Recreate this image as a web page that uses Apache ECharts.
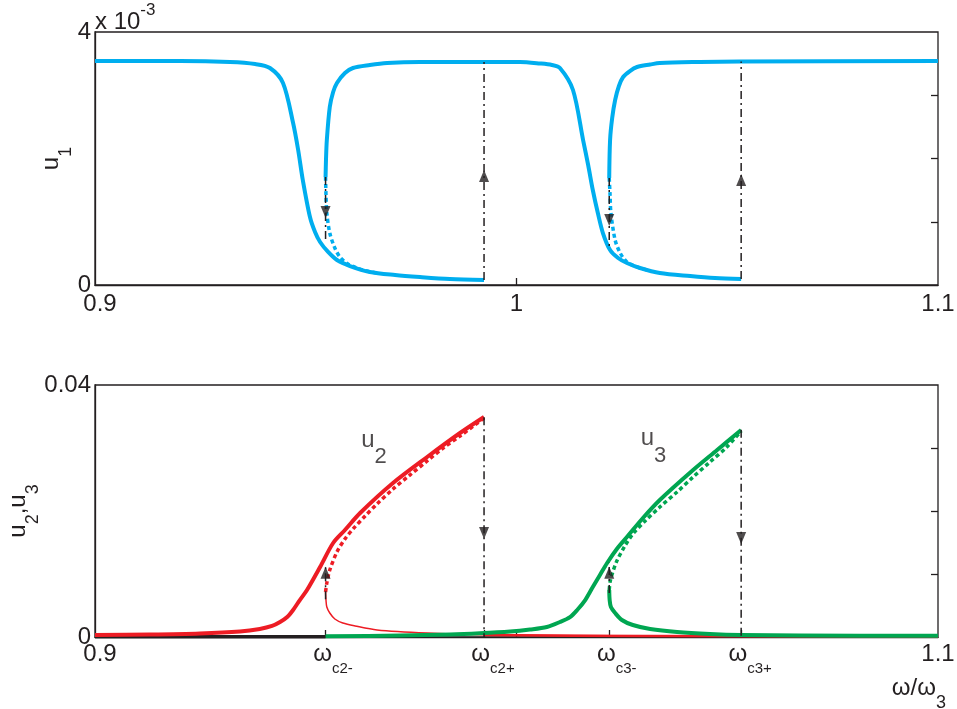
<!DOCTYPE html>
<html><head><meta charset="utf-8">
<script src="https://cdn.jsdelivr.net/npm/echarts@6/dist/echarts.min.js"></script>
<style>html,body{margin:0;padding:0;background:#fff}#c{width:957px;height:709px}</style>
</head><body><div id="c"></div>
<script>
// ---------- data ----------
// critical frequencies  w_c2-, w_c2+, w_c3-, w_c3+
const wc = [0.9547, 0.9923, 1.0220, 1.0533];

// top panel: u1 (units of 1e-3)
const u1LowX = [0.9,0.9202,0.9320,0.9380,0.9415,0.9446,0.9470,0.9482,0.9493,0.9510,0.9522,0.9534,0.9553,0.9574,0.9605,0.9652,0.9712,0.9771,0.9842,0.9923];
const u1LowY = [3.541,3.541,3.526,3.494,3.431,3.194,2.561,2.134,1.660,1.075,0.838,0.680,0.522,0.395,0.300,0.206,0.158,0.126,0.095,0.079];
const u1MidX = [0.9547,0.9548,0.9550,0.9557,0.9565,0.9574,0.9593,0.9612,0.9652,0.9693,0.9771,0.9921,1.0008,1.0056,1.0084,1.0103,1.0134,1.0158,1.0170,1.0181,1.0193,1.0205,1.0222,1.0241,1.0262,1.0293,1.0340,1.0412,1.0471,1.0533];
const u1MidY = [1.707,1.976,2.292,2.814,3.051,3.194,3.352,3.431,3.478,3.510,3.526,3.526,3.526,3.502,3.478,3.431,3.083,2.292,1.897,1.502,1.138,0.822,0.553,0.427,0.348,0.269,0.190,0.142,0.111,0.095];
const u1HighX = [1.0220,1.0222,1.0227,1.0234,1.0243,1.0253,1.0269,1.0286,1.0317,1.0340,1.0435,1.0530,1.1];
const u1HighY = [1.692,2.292,2.640,2.925,3.146,3.288,3.383,3.447,3.486,3.510,3.526,3.534,3.541];
const u1Unst1X = [0.9547,0.9548,0.9550,0.9557,0.9569,0.9581,0.9600,0.9622,0.9645,0.9669];
const u1Unst1Y = [1.707,1.423,1.138,0.822,0.585,0.443,0.332,0.269,0.221,0.190];
const u1Unst2X = [1.0220,1.0222,1.0224,1.0234,1.0246,1.0262,1.0286,1.0310];
const u1Unst2Y = [1.692,1.423,1.138,0.711,0.506,0.364,0.285,0.237];
const jumpTopFrom = [1.707, 0.079, 1.692, 0.095];
const jumpTopTo   = [0.664, 3.526, 0.553, 3.534];
const arrowTopY   = [1.154, 1.723, 1.028, 1.660];
const arrowTopDir = ['down','up','down','up'];

// bottom panel: u2 (red), u3 (green)
const u2UpX = [0.9,0.9130,0.9249,0.9344,0.9391,0.9420,0.9439,0.9456,0.9470,0.9486,0.9503,0.9534,0.9565,0.9593,0.9629,0.9707,0.9788,0.9866,0.9923];
const u2UpY = [0.00032,0.00040,0.00056,0.00087,0.00127,0.00175,0.00238,0.00317,0.00429,0.00587,0.00746,0.01111,0.01492,0.01698,0.01968,0.02444,0.02857,0.03238,0.03492];
const u2UnstX = [0.9547,0.9550,0.9557,0.9574,0.9593,0.9612,0.9641,0.9669,0.9707,0.9747,0.9788,0.9826,0.9866,0.9923];
const u2UnstY = [0.00714,0.00857,0.01063,0.01349,0.01556,0.01714,0.01921,0.02111,0.02349,0.02571,0.02794,0.03000,0.03190,0.03476];
const u2LowX = [0.9547,0.9548,0.9550,0.9557,0.9569,0.9588,0.9617,0.9669,0.9788,0.9944,1.05,1.1];
const u2LowY = [0.00714,0.00587,0.00476,0.00381,0.00286,0.00222,0.00175,0.00111,0.00063,0.00032,0.00012,0.00008];
const u2TailX = [0.9923,1.03,1.1];
const u2TailY = [0.00030,0.00015,0.00008];
const u3BaseX = [0.9,0.9547];
const u3BaseY = [0.00005,0.00005];
const u3UpX = [0.9547,0.9724,0.9842,0.9913,0.9985,1.0032,1.0072,1.0103,1.0127,1.0144,1.0163,1.0181,1.0198,1.0215,1.0238,1.0262,1.0300,1.0340,1.0419,1.0476,1.0533];
const u3UpY = [0.00011,0.00024,0.00040,0.00059,0.00087,0.00119,0.00159,0.00238,0.00317,0.00429,0.00587,0.00794,0.00984,0.01175,0.01397,0.01587,0.01889,0.02175,0.02651,0.02968,0.03286];
const u3UnstX = [1.0220,1.0222,1.0227,1.0238,1.0257,1.0276,1.0305,1.0340,1.0381,1.0419,1.0459,1.0499,1.0533];
const u3UnstY = [0.00746,0.00873,0.01000,0.01206,0.01444,0.01635,0.01841,0.02063,0.02302,0.02540,0.02778,0.03016,0.03270];
const u3LowX = [1.0220,1.0221,1.0224,1.0234,1.0250,1.0276,1.0317,1.0381,1.0459,1.0533,1.0673,1.1];
const u3LowY = [0.00746,0.00587,0.00476,0.00381,0.00270,0.00190,0.00127,0.00079,0.00048,0.00032,0.00024,0.00020];
const jumpBotFrom = [0.0060, 0.0349, 0.0070, 0.0329];
const jumpBotTo   = [0.0112, 0.0,    0.0118, 0.0];
const arrowBotY   = [0.0102, 0.0165, 0.0102, 0.0157];
const arrowBotDir = ['up','down','up','down'];

// annotations
const annX = [0.9662, 1.0325];
const annY = [0.0300, 0.0302];
const annText = ['{u|u}{s|2}', '{u|u}{s|3}'];

// tick labels
const topXLabelVals = [0.9, 1, 1.1];
const topXLabels = ['{p| }{n|0.9}', '{n|1}', '{n|1.1}'];
const botXLabelVals = [0.9, wc[0], wc[1], wc[2], wc[3], 1.1];
const botXLabels = ['{p| }{n|0.9}', '{p1| }{w|ω}{s|c2-}', '{p2| }{w|ω}{s|c2+}', '{p1| }{w|ω}{s|c3-}', '{p2| }{w|ω}{s|c3+}', '{n|1.1}'];
const topYLabelVals = [0, 4];
const botYLabelVals = [0, 0.04];

// ---------- chart ----------
const FONT = '"Liberation Sans", Arial, Helvetica, sans-serif';
const INK = '#231F20';
const BLUE = '#00AEEF', RED = '#ED1C24', GREEN = '#00A651';
const AXW = 1.3;
const FS = 24;
function zip(xs, ys) { return xs.map((x, i) => [x, ys[i]]); }
function line(xi, xs, ys, color, width, type, z, smooth) {
  return { type: 'line', xAxisIndex: xi, yAxisIndex: xi === 0 ? 0 : 2, data: zip(xs, ys),
    showSymbol: false, symbol: 'none', silent: true, z: z || 2, smooth: smooth === undefined ? 0.3 : smooth,
    lineStyle: { color: color, width: width, type: type || 'solid', cap: 'butt', join: 'round' } };
}
function jumps(xi, from, to) {
  return wc.map((x, i) => line(xi, [x, x], [from[i], to[i]], INK, 1.5, [8, 4, 2, 4], 4, false));
}
function arrows(xi, ys, dirs) {
  return { type: 'scatter', xAxisIndex: xi, yAxisIndex: xi === 0 ? 0 : 2, symbol: 'triangle',
    symbolSize: [10, 12], z: 6, silent: true, itemStyle: { color: INK },
    data: wc.map((x, i) => ({ value: [x, ys[i]], symbolRotate: dirs[i] === 'down' ? 180 : 0 })) };
}
const lab = { fontFamily: FONT, color: INK, fontSize: FS };
const richTick = {
  n: { fontFamily: FONT, color: INK, fontSize: FS, lineHeight: FS, verticalAlign: 'top' },
  w: { fontFamily: FONT, color: INK, fontSize: FS, lineHeight: FS, verticalAlign: 'top' },
  s: { fontFamily: FONT, color: INK, fontSize: 15, lineHeight: 34, verticalAlign: 'bottom' },
  p: { width: 10 }, p1: { width: 15 }, p2: { width: 18 }
};
const richName = {
  u: { fontFamily: FONT, color: INK, fontSize: FS, lineHeight: FS, verticalAlign: 'top' },
  s: { fontFamily: FONT, color: INK, fontSize: 18, lineHeight: 36, verticalAlign: 'bottom' }
};
function pick(vals, labels, v) {
  let bi = 0, bd = Infinity;
  vals.forEach((x, i) => { const d = Math.abs(x - v); if (d < bd) { bd = d; bi = i; } });
  return labels[bi];
}
const axisLineStyle = { show: true, lineStyle: { color: INK, width: AXW } };

const option = {
  animation: false,
  backgroundColor: '#fff',
  grid: [
    { left: 95, right: 19, top: 32, bottom: 424, show: true, borderColor: INK, borderWidth: AXW,
      containLabel: false, outerBoundsMode: 'none' },
    { left: 95, right: 19, top: 385, bottom: 72, show: true, borderColor: INK, borderWidth: AXW,
      containLabel: false, outerBoundsMode: 'none' }
  ],
  xAxis: [
    { type: 'value', gridIndex: 0, min: 0.9, max: 1.1, axisLine: axisLineStyle, splitLine: { show: false },
      axisTick: { show: true, inside: true, length: 7, customValues: [1], lineStyle: { color: INK, width: AXW } },
      axisLabel: { customValues: topXLabelVals, margin: 7, formatter: v => pick(topXLabelVals, topXLabels, v), rich: richTick } },
    { type: 'value', gridIndex: 1, min: 0.9, max: 1.1, axisLine: axisLineStyle, splitLine: { show: false },
      axisTick: { show: true, inside: true, length: 7, customValues: [wc[0], wc[1], 1.0, wc[2], wc[3]], lineStyle: { color: INK, width: AXW } },
      axisLabel: { customValues: botXLabelVals, margin: 5, formatter: v => pick(botXLabelVals, botXLabels, v), rich: richTick },
      name: '{u|ω/ω}{s|3}', nameLocation: 'end', nameGap: 8, nameMoveOverlap: false,
      nameTextStyle: { align: 'right', verticalAlign: 'top', padding: [39, 0, 0, 0], rich: {
        u: { fontFamily: FONT, color: INK, fontSize: FS, lineHeight: FS, verticalAlign: 'top' },
        s: { fontFamily: FONT, color: INK, fontSize: 18, lineHeight: 36, verticalAlign: 'bottom' } } } }
  ],
  yAxis: [
    { type: 'value', gridIndex: 0, min: 0, max: 4, interval: 1, position: 'left', axisLine: axisLineStyle,
      splitLine: { show: false }, axisTick: { show: false },
      axisLabel: Object.assign({ customValues: topYLabelVals, margin: 4 }, lab),
      name: '{u|u}{s|1}', nameLocation: 'middle', nameRotate: 90, nameGap: 20, nameMoveOverlap: false,
      nameTextStyle: { rich: richName } },
    { type: 'value', gridIndex: 0, min: 0, max: 4, interval: 1, position: 'right', axisLine: { show: false },
      splitLine: { show: false }, axisLabel: { show: false },
      axisTick: { show: true, inside: true, length: 7, customValues: [1, 2, 3], lineStyle: { color: INK, width: AXW } } },
    { type: 'value', gridIndex: 1, min: 0, max: 0.04, interval: 0.01, position: 'left', axisLine: axisLineStyle,
      splitLine: { show: false }, axisTick: { show: false },
      axisLabel: Object.assign({ customValues: botYLabelVals, margin: 4 }, lab),
      name: '{u|u}{s|2}{u|,u}{s|3}', nameLocation: 'middle', nameRotate: 90, nameGap: 53, nameMoveOverlap: false,
      nameTextStyle: { rich: richName } },
    { type: 'value', gridIndex: 1, min: 0, max: 0.04, interval: 0.01, position: 'right', axisLine: { show: false },
      splitLine: { show: false }, axisLabel: { show: false },
      axisTick: { show: true, inside: true, length: 7, customValues: [0.01, 0.02, 0.03], lineStyle: { color: INK, width: AXW } } },
    { type: 'value', gridIndex: 0, min: 0, max: 4, position: 'left', axisLine: { show: false },
      splitLine: { show: false }, axisTick: { show: false }, axisLabel: { show: false },
      name: '{a|x 10}{s|-3}', nameLocation: 'end', nameGap: -2, nameMoveOverlap: false,
      nameTextStyle: { align: 'left', verticalAlign: 'bottom', rich: {
        a: { fontFamily: FONT, color: INK, fontSize: FS, lineHeight: 32, verticalAlign: 'bottom' },
        s: { fontFamily: FONT, color: INK, fontSize: 17, lineHeight: 13, verticalAlign: 'top' } } } }
  ],
  series: [
    // top
    line(0, u1LowX, u1LowY, BLUE, 4),
    line(0, u1MidX, u1MidY, BLUE, 4),
    line(0, u1HighX, u1HighY, BLUE, 4),
    line(0, u1Unst1X, u1Unst1Y, BLUE, 3.5, [4, 3]),
    line(0, u1Unst2X, u1Unst2Y, BLUE, 3.5, [4, 3]),
    ...jumps(0, jumpTopFrom, jumpTopTo),
    arrows(0, arrowTopY, arrowTopDir),
    // bottom
    line(1, u3BaseX, u3BaseY, INK, 3.5),
    line(1, u2LowX, u2LowY, RED, 1.5),
    line(1, u2TailX, u2TailY, RED, 2.5),
    line(1, u2UpX, u2UpY, RED, 4),
    line(1, u2UnstX, u2UnstY, RED, 3.5, [4, 3]),
    line(1, u3UpX, u3UpY, GREEN, 4, 'solid', 3),
    line(1, u3LowX, u3LowY, GREEN, 4, 'solid', 3),
    line(1, u3UnstX, u3UnstY, GREEN, 3.5, [4, 3], 3),
    ...jumps(1, jumpBotFrom, jumpBotTo),
    arrows(1, arrowBotY, arrowBotDir),
    { type: 'scatter', xAxisIndex: 1, yAxisIndex: 2, symbolSize: 0, silent: true, z: 7,
      itemStyle: { color: 'rgba(0,0,0,0)' },
      data: annX.map((x, i) => ({ value: [x, annY[i]], label: { formatter: annText[i] } })),
      label: { show: true, position: 'inside', rich: {
        u: { fontFamily: FONT, color: INK, fontSize: FS, lineHeight: FS, verticalAlign: 'top' },
        s: { fontFamily: FONT, color: INK, fontSize: 22, lineHeight: 40, verticalAlign: 'bottom' } } } }
  ]
};
const chart = echarts.init(document.getElementById('c'), null, { renderer: 'canvas' });
chart.setOption(option);
</script></body></html>
